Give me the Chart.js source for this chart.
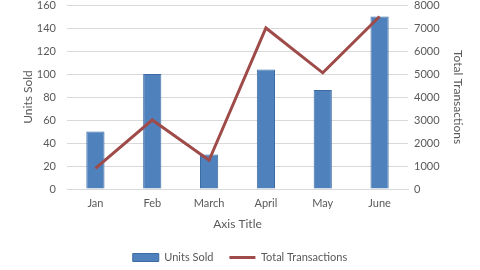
<!DOCTYPE html>
<html>
<head>
<meta charset="utf-8">
<script src="https://cdn.jsdelivr.net/npm/chart.js@4"></script>
<style>
  html, body { margin: 0; padding: 0; background: #fff; }
  #wrap { width: 480px; height: 270px; }
</style>
</head>
<body>
<div id="wrap"><canvas id="comboChart" width="480" height="270"></canvas></div>
<script>
const months = ['Jan', 'Feb', 'March', 'April', 'May', 'June'];
const unitsSold = [50, 100, 30, 104, 86, 150];
const totalTransactions = [900, 3000, 1250, 7000, 5050, 7500];
const leftTicks = [0, 20, 40, 60, 80, 100, 120, 140, 160];
const rightTicks = [0, 1000, 2000, 3000, 4000, 5000, 6000, 7000, 8000];

const textColor = '#595959';
const fontFamily = 'Lato, "Open Sans", sans-serif';

const ctx = document.getElementById('comboChart');

// the value axes should not add space for half-height tick labels
function noLabelPadding(scale) {
  scale.paddingTop = 0;
  scale.paddingBottom = 0;
}

new Chart(ctx, {
  type: 'bar',
  data: {
    labels: months,
    datasets: [{
      type: 'bar',
      label: 'Units Sold',
      data: unitsSold,
      yAxisID: 'y',
      backgroundColor: '#4F81BD',
      borderColor: '#3D6CA3',
      borderWidth: 1,
      categoryPercentage: 1,
      barPercentage: 0.32,
      order: 2
    }, {
      type: 'line',
      label: 'Total Transactions',
      data: totalTransactions,
      yAxisID: 'y1',
      borderColor: '#9E4B4A',
      backgroundColor: '#9E4B4A',
      borderWidth: 3,
      pointRadius: 0,
      tension: 0,
      order: 1
    }]
  },
  options: {
    responsive: false,
    animation: false,
    layout: { padding: { top: 5, left: 0, right: 0, bottom: -3 } },
    plugins: {
      tooltip: { enabled: false },
      legend: {
        position: 'bottom',
        labels: {
          color: textColor,
          font: { family: fontFamily, size: 11 },
          usePointStyle: true,
          pointStyleWidth: 26,
          boxHeight: 8,
          padding: 16,
          sort: (a, b) => a.datasetIndex - b.datasetIndex,
          generateLabels(chart) {
            const items = Chart.defaults.plugins.legend.labels.generateLabels(chart);
            items.forEach(item => {
              item.pointStyle = item.datasetIndex === 0 ? 'rect' : 'line';
            });
            return items;
          }
        }
      }
    },
    scales: {
      x: {
        grid: { display: false, drawTicks: false },
        border: { color: '#D9D9D9' },
        ticks: { color: textColor, font: { family: fontFamily, size: 11 }, padding: 8 },
        title: { display: true, text: 'Axis Title', color: textColor, font: { family: fontFamily, size: 12 }, padding: { top: 0, bottom: 5 } },
        afterFit(scale) { scale.height = 47; }
      },
      y: {
        position: 'left',
        min: 0,
        max: 160,
        afterBuildTicks(scale) { scale.ticks = leftTicks.map(v => ({ value: v })); },
        grid: { color: '#D9D9D9', drawTicks: false },
        border: { display: false },
        ticks: { color: textColor, font: { family: fontFamily, size: 11 }, padding: 11 },
        title: { display: true, text: 'Units Sold', color: textColor, font: { family: fontFamily, size: 12 }, padding: { top: 21, bottom: 4 } },
        afterFit(scale) { scale.width = 67; noLabelPadding(scale); }
      },
      y1: {
        position: 'right',
        min: 0,
        max: 8000,
        afterBuildTicks(scale) { scale.ticks = rightTicks.map(v => ({ value: v })); },
        grid: { display: false, drawTicks: false },
        border: { display: false },
        ticks: {
          color: textColor,
          font: { family: fontFamily, size: 11 },
          padding: 6,
          callback: v => String(v)
        },
        title: { display: true, text: 'Total Transactions', color: textColor, font: { family: fontFamily, size: 12 }, padding: { top: 15, bottom: 0 } },
        afterFit(scale) { scale.width = 72; noLabelPadding(scale); }
      }
    }
  }
});
</script>
</body>
</html>
